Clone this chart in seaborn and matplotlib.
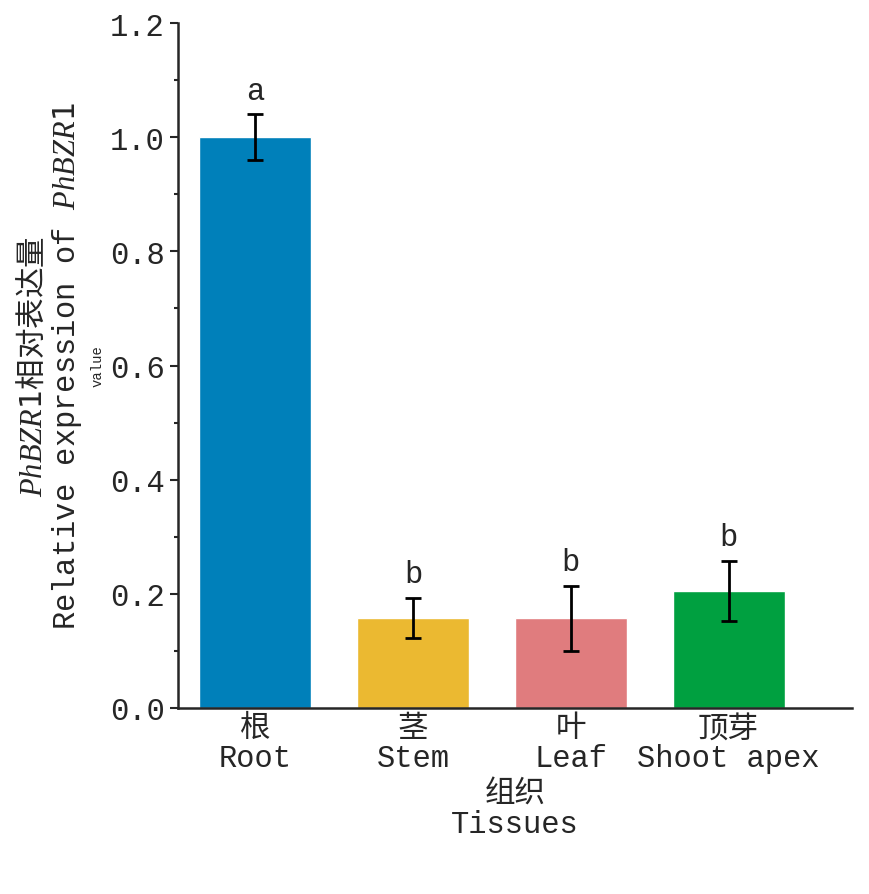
import matplotlib
matplotlib.use('Agg')
import matplotlib.pyplot as plt
import seaborn as sns
import pandas as pd

tissues = ['根\nRoot', '茎\nStem', '叶\nLeaf', '顶芽\nShoot apex']
means = [1.0, 0.158, 0.157, 0.205]
errs = [0.04, 0.035, 0.057, 0.053]
letters = ['a', 'b', 'b', 'b']
colors = ['#0080BA', '#EBB931', '#E07C7E', '#00A040']
yticks = [0.0, 0.2, 0.4, 0.6, 0.8, 1.0, 1.2]
yminor = [0.1, 0.3, 0.5, 0.7, 0.9, 1.1]

sns.set_style('ticks')
plt.rcParams['font.family'] = ['Liberation Mono', 'Noto Sans CJK SC']
plt.rcParams['mathtext.fontset'] = 'custom'
plt.rcParams['mathtext.it'] = 'Liberation Serif:italic'

df = pd.DataFrame({'tissue': tissues, 'value': means})
fig = plt.figure(figsize=(8.69, 8.95), dpi=100)
ax = fig.add_axes([0.205, 0.208, 0.775, 0.765])
sns.barplot(data=df, x='tissue', y='value', hue='tissue', palette=colors,
            width=0.71, legend=False, ax=ax, saturation=1)
ax.errorbar(range(4), means, yerr=errs, fmt='none', ecolor='black',
            elinewidth=2, capsize=6, capthick=2)
for i, (m, e, l) in enumerate(zip(means, errs, letters)):
    ax.text(i, m + e + 0.015, l, ha='center', va='bottom', fontsize=22)

ax.set_yticks(yticks)
ax.set_yticks(yminor, minor=True)
ax.set_yticklabels([f'{v:.1f}' for v in yticks])
ax.set_ylim(0, 1.2)
ax.set_xlim(-0.49, 3.78)
ax.tick_params(labelsize=22, width=1.5, length=6)
ax.tick_params(which='minor', width=1.5, length=3)
ax.tick_params(axis='x', length=0, pad=4)
for s in ['left', 'bottom']:
    ax.spines[s].set_linewidth(1.8)
sns.despine(ax=ax)
ax.set_xlabel('组织\nTissues', fontsize=22, linespacing=1.0)
for t in ax.get_xticklabels():
    t.set_linespacing(1.0)

ax.text(-0.215, 0.5, '$\\it{PhBZR1}$相对表达量', transform=ax.transAxes,
        rotation=90, ha='center', va='center', fontsize=22,
        family='Noto Sans CJK SC')
ax.text(-0.165, 0.5, 'Relative expression of $\\it{PhBZR1}$', transform=ax.transAxes,
        rotation=90, ha='center', va='center', fontsize=22,
        family='Liberation Mono')
fig.savefig('out.png', dpi=100)
